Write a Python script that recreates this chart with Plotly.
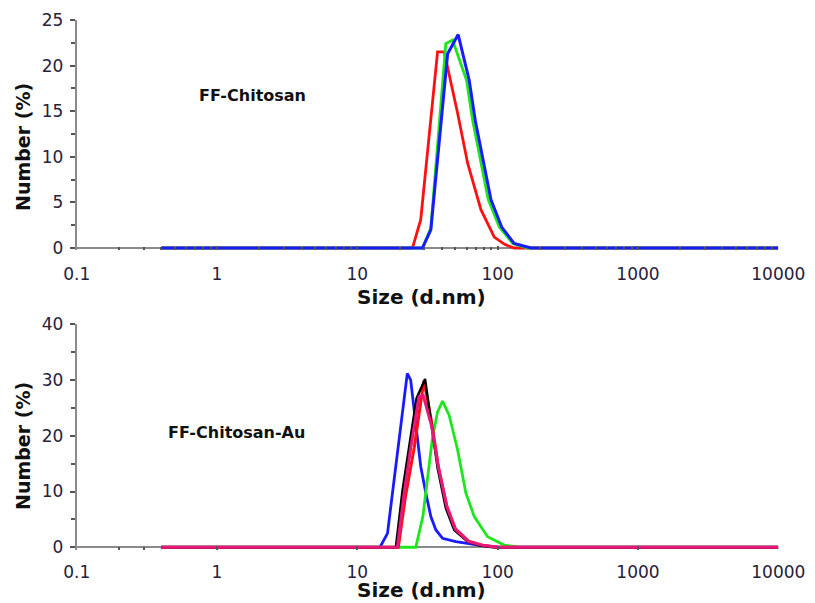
import plotly.graph_objects as go

# ---------------- data ----------------
# Top panel: FF-Chitosan
top_red_size = [0.4, 24.7, 28.3, 37.3, 41.6, 51.8, 61.1, 76.0, 94.6, 112, 131, 10000]
top_red_val = [0, 0, 3.1, 21.5, 21.5, 14.8, 9.3, 4.2, 1.2, 0.4, 0, 0]

top_green_size = [0.4, 29.1, 33.4, 42.7, 47.7, 60.0, 66.3, 74.7, 85.7, 102.7, 128, 164, 10000]
top_green_val = [0, 0, 2.2, 22.4, 22.8, 18.4, 14.0, 9.8, 5.3, 2.3, 0.5, 0, 0]

top_blue_size = [0.4, 29.1, 33.4, 44.0, 52.3, 62.7, 69.2, 78.2, 89.6, 106.8, 131, 173, 10000]
top_blue_val = [0, 0, 2.0, 21.3, 23.4, 18.4, 14.0, 9.8, 5.3, 2.3, 0.5, 0, 0]

# Bottom panel: FF-Chitosan-Au
bot_blue_size = [0.4, 14.5, 16.4, 22.7, 24.0, 26.3, 28.3, 30.8, 33.4, 36.3, 40.5, 50.3, 73.3, 104, 10000]
bot_blue_val = [0, 0, 2.5, 31.2, 30.0, 21.0, 14.5, 9.7, 5.5, 3.1, 1.6, 1.0, 0.4, 0, 0]

bot_green_size = [0.4, 26.1, 29.3, 34.3, 37.3, 40.5, 45.1, 51.8, 59.4, 68.1, 84.8, 111, 147, 10000]
bot_green_val = [0, 0, 5.5, 19.6, 24.3, 26.2, 23.7, 17.5, 9.7, 5.5, 1.9, 0.4, 0, 0]

bot_black_size = [0.4, 18.8, 21.0, 26.4, 30.4, 33.6, 37.3, 42.7, 49.0, 61.1, 75, 92, 10000]
bot_black_val = [0, 0, 10.3, 26.7, 30.2, 22.5, 14.2, 7.0, 3.1, 1.0, 0.3, 0, 0]

bot_red_size = [0.4, 19.6, 22.0, 25.4, 29.8, 33.8, 37.8, 43.5, 50, 62, 80, 100, 10000]
bot_red_val = [0, 0, 9.0, 17.8, 29.9, 22.5, 14.5, 7.3, 3.3, 1.1, 0.3, 0, 0]

bot_pink_size = [0.4, 19.3, 21.5, 24.0, 27.5, 29.5, 33.8, 37.8, 43.5, 50, 62, 80, 100, 10000]
bot_pink_val = [0, 0, 9.5, 17.8, 27.0, 27.2, 21.8, 14.3, 7.2, 3.2, 1.0, 0.3, 0, 0]

x_tick_vals = [0.1, 1, 10, 100, 1000, 10000]
x_tick_text = ["0.1", "1", "10", "100", "1000", "10000"]
top_minor_ticks = [m * d for d in [0.1, 1, 10, 100, 1000] for m in range(2, 10)]
bot_minor_ticks = [0.2, 0.3]
top_y_ticks = [0, 5, 10, 15, 20, 25]
bot_y_ticks = [0, 10, 20, 30, 40]

panel_labels = ["FF-Chitosan", "FF-Chitosan-Au"]
x_title = "Size (d.nm)"
y_title = "Number (%)"

# ---------------- figure ----------------
W, H = 815, 603
FONT = "DejaVu Sans, Arial, sans-serif"
AX = "#8a8a8a"
TXT = "#26203a"

RED = "#ff1010"
GREEN = "#1ee61e"
BLUE = "#1a1aff"
BLACK = "#000000"
PINK = "#e8177c"

fig = go.Figure()

def add(x, y, color, xa, ya, width=2.8):
    fig.add_trace(go.Scatter(x=x, y=y, mode="lines", xaxis=xa, yaxis=ya,
                             line=dict(color=color, width=width),
                             showlegend=False, hoverinfo="skip"))

add(top_red_size, top_red_val, RED, "x", "y")
add(top_green_size, top_green_val, GREEN, "x", "y")
add(top_blue_size, top_blue_val, BLUE, "x", "y", 3)

add(bot_blue_size, bot_blue_val, BLUE, "x2", "y2")
add(bot_green_size, bot_green_val, GREEN, "x2", "y2")
add(bot_red_size, bot_red_val, RED, "x2", "y2", 3)
add(bot_black_size, bot_black_val, BLACK, "x2", "y2", 2.4)
add(bot_pink_size, bot_pink_val, PINK, "x2", "y2", 3)

xdom = [76.7 / W, 778.3 / W]
top_dom = [1 - 250.3 / H, 1 - 20 / H]
bot_dom = [1 - 549.5 / H, 1 - 324.3 / H]

def xaxis_cfg(anchor, minor_vals, standoff):
    return dict(type="log", range=[-1, 4], domain=xdom, anchor=anchor,
                automargin=False,
                showgrid=False, showline=False, zeroline=False,
                tickmode="array", tickvals=x_tick_vals, ticktext=x_tick_text,
                ticks="inside", ticklen=4, tickwidth=1.5, tickcolor="#555555",
                tickfont=dict(family=FONT, size=17, color=TXT),
                ticklabelstandoff=standoff, layer="above traces",
                minor=dict(ticks="inside", ticklen=3, tickwidth=1.5,
                           tickcolor="#555555", showgrid=False,
                           tickvals=minor_vals))

def yaxis_cfg(anchor, dom, rng, ticks, minor_dt):
    return dict(range=rng, domain=dom, anchor=anchor, automargin=False,
                showgrid=False, showline=True, linecolor=AX, linewidth=2,
                zeroline=True, zerolinecolor=AX, zerolinewidth=2,
                tickmode="array", tickvals=ticks,
                ticks="outside", ticklen=5, tickwidth=1.5, tickcolor="#555555",
                minor=dict(ticks="outside", ticklen=4, tickwidth=1.5,
                           tickcolor="#555555", dtick=minor_dt, showgrid=False),
                tickfont=dict(family=FONT, size=17, color=TXT),
                ticklabelstandoff=3, layer="below traces")

fig.update_layout(
    width=W, height=H,
    margin=dict(l=0, r=0, t=0, b=0),
    paper_bgcolor="white", plot_bgcolor="white",
    xaxis=xaxis_cfg("y", top_minor_ticks, 12),
    yaxis=yaxis_cfg("x", top_dom, [-0.25, 25], top_y_ticks, 2.5),
    xaxis2=xaxis_cfg("y2", bot_minor_ticks, 10),
    yaxis2=yaxis_cfg("x2", bot_dom, [-0.4, 40], bot_y_ticks, 5),
)

ann = []
def a(text, px, py, size, angle=0):
    ann.append(dict(text=text, x=px / W, y=1 - py / H, xref="paper", yref="paper",
                    xanchor="center", yanchor="middle", showarrow=False,
                    textangle=angle,
                    font=dict(family=FONT, size=size, color="#111111")))

a("<b>%s</b>" % panel_labels[0], 252, 96, 16)
a("<b>%s</b>" % panel_labels[1], 236, 433, 16)
a("<b>%s</b>" % x_title, 421, 297, 20)
a("<b>%s</b>" % x_title, 421, 590, 20)
a("<b>%s</b>" % y_title, 23, 147, 19, -90)
a("<b>%s</b>" % y_title, 23, 446, 19, -90)
fig.update_layout(annotations=ann)

fig.write_html("out.html")
